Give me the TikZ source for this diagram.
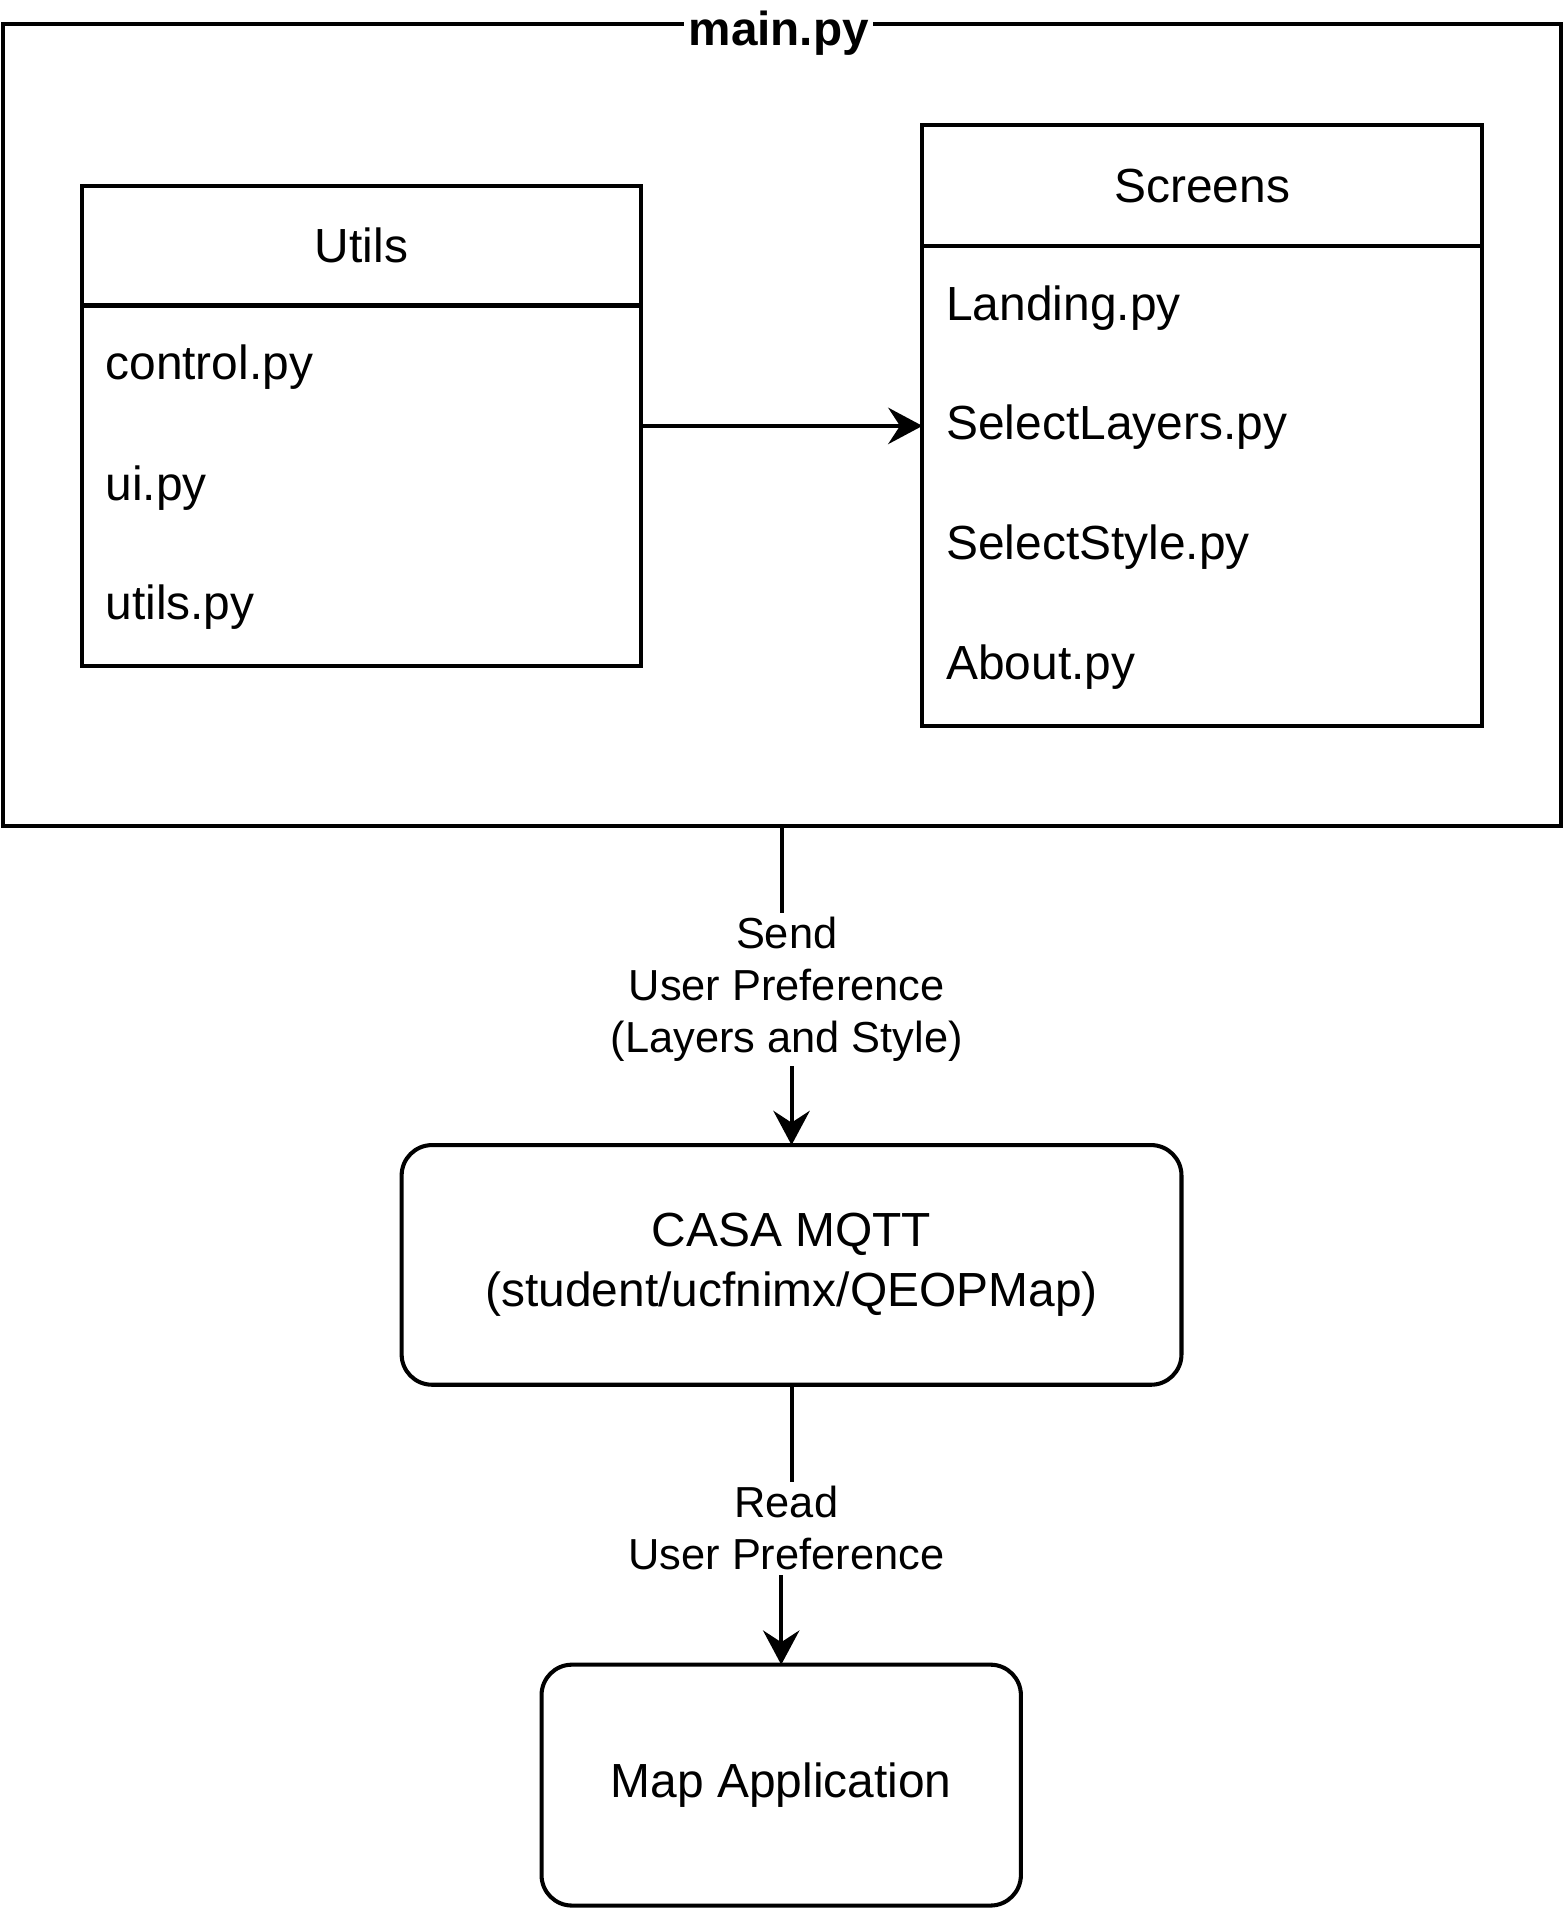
\documentclass[tikz,border=0pt]{standalone}
\usepackage{fontspec}
\setmainfont{Liberation Sans}
\usetikzlibrary{calc,arrows.meta}

\begin{document}
\begin{tikzpicture}[x=0.02cm, y=-0.02cm, every path/.style={line width=1.9pt},
  box/.style={draw, rectangle, inner sep=0pt, outer sep=0pt},
  roundbox/.style={box, rounded corners=0.5cm, align=center, font=\fontsize{22.4}{27.8}\selectfont},
  item/.style={anchor=west, inner sep=0pt, yshift=-0.06cm, font=\fontsize{22.4}{27.8}\selectfont},
  head/.style={inner sep=0pt, font=\fontsize{22.4}{27.8}\selectfont},
  link/.style={-{Stealth[length=16pt,width=17pt,inset=5.5pt]}},
  lbl/.style={fill=white, align=center, inner sep=2pt, yshift=-0.06cm, font=\fontsize{20.3}{24.4}\selectfont}]
\useasboundingbox (0,0) rectangle (1285,1568);

\node[box, minimum width=25.62cm, minimum height=13.18cm] (main) at (642.5,349.5) {};
\node[fill=white, inner xsep=2pt, inner ysep=1pt, anchor=base, font=\bfseries\fontsize{22.3}{26}\selectfont] (title) at (640,37) {main.py};

\node[box, minimum width=9.2cm, minimum height=7.88cm] (utils) at (297,350) {};
\draw ($(utils.north west)+(0,98)$) -- ($(utils.north east)+(0,98)$);
\node[head] (utilsTitle) at ($(utils.north)+(0,49)$) {Utils};
\node[item] (control) at (85,299) {control.py};
\node[item] (ui) at (85,398) {ui.py};
\node[item] (utilspy) at (85,496) {utils.py};

\node[box, minimum width=9.2cm, minimum height=9.88cm] (screens) at (988,350) {};
\draw ($(screens.north west)+(0,99)$) -- ($(screens.north east)+(0,99)$);
\node[head] (screensTitle) at ($(screens.north)+(0,49.5)$) {Screens};
\node[item] (landing) at (776,250) {Landing.py};
\node[item] (layers) at (776,348) {SelectLayers.py};
\node[item] (style) at (776,447) {SelectStyle.py};
\node[item] (about) at (776,545) {About.py};

\draw[link] (utils) -- (screens);

\node[roundbox, minimum width=12.82cm, minimum height=3.94cm] (casa) at (650.5,1039.5) {CASA MQTT\\(student/ucfnimx/QEOPMap)};
\node[roundbox, minimum width=7.88cm, minimum height=3.96cm] (map) at (642,1467) {Map Application};

\draw[link] (main.south) |- ($(main.south)!0.5!(casa.north)$) -| (casa.north);
\node[lbl] (send) at ($(main.south)!0.5!(casa.north)$) {Send\\User Preference\\(Layers and Style)};

\draw[link] (casa.south) |- ($(casa.south)!0.5!(map.north)$) -| (map.north);
\node[lbl] (read) at ($(casa.south)!0.5!(map.north)$) {Read\\User Preference};
\end{tikzpicture}
\end{document}
